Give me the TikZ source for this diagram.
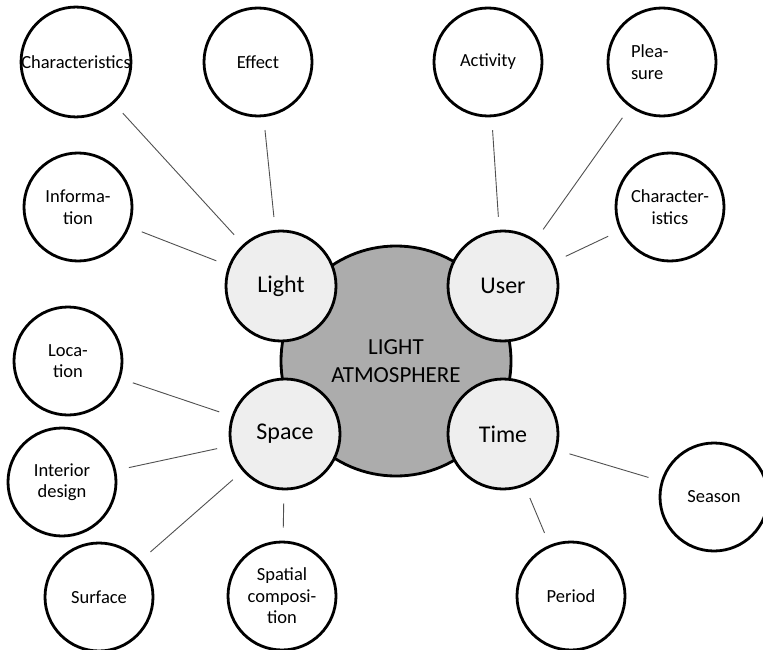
\documentclass[tikz,border=0pt]{standalone}
\usepackage{fontspec}
\setmainfont{Carlito}
\definecolor{coregray}{RGB}{172,172,172}
\definecolor{innergray}{RGB}{238,238,238}
\definecolor{linkgray}{RGB}{80,80,80}
\begin{document}
\begin{tikzpicture}[x=1pt,y=-1pt,
    outer/.style={circle,draw,line width=2.8pt,minimum size=108pt,inner sep=0pt,align=center,
        font=\fontsize{18.5}{21.5}\selectfont},
    aspect/.style={circle,draw,line width=2.8pt,fill=innergray,minimum size=110pt,inner sep=0pt,
        font=\fontsize{24}{28}\selectfont},
    link/.style={draw=linkgray,line width=0.9pt,shorten <=13pt,shorten >=13pt}]
    \useasboundingbox (0,0) rectangle (763,650);
    \node[circle,draw,line width=2.8pt,fill=coregray,minimum size=230pt,align=center,
        font=\fontsize{23}{28}\selectfont] (atmo) at (396,361) {LIGHT\\ATMOSPHERE};
    \node[aspect] (light) at (281,286) {Light};
    \node[aspect] (user) at (503,286) {User};
    \node[aspect] (space) at (285,434) {Space};
    \node[aspect] (time) at (503,434) {Time};
    \node[outer] (charl) at (76,62) {Characteristics};
    \node[outer] (effect) at (258,62) {Effect};
    \node[outer] (info) at (78,207) {Informa-\\tion};
    \node[outer] (activity) at (488,62) {Activity};
    \node[outer,text width=62pt,align=left] (pleasure) at (662,62) {Plea-\\sure};
    \node[outer] (charu) at (670,207) {Character-\\istics};
    \node[outer] (location) at (68,361) {Loca-\\tion};
    \node[outer] (interior) at (62,482) {Interior\\design};
    \node[outer] (surface) at (99,597) {Surface};
    \node[outer] (spatial) at (282,596) {Spatial\\composi-\\tion};
    \node[outer] (period) at (571,596) {Period};
    \node[outer] (season) at (714,497) {Season};
    \draw[link] (charl) -- (light);
    \draw[link] (effect) -- (light);
    \draw[link] (info) -- (light);
    \draw[link] (activity) -- (user);
    \draw[link] (pleasure) -- (user);
    \draw[link] (charu) -- (user);
    \draw[link] (location) -- (space);
    \draw[link] (interior) -- (space);
    \draw[link] (surface) -- (space);
    \draw[link] (spatial) -- (space);
    \draw[link] (period) -- (time);
    \draw[link] (season) -- (time);
\end{tikzpicture}
\end{document}
